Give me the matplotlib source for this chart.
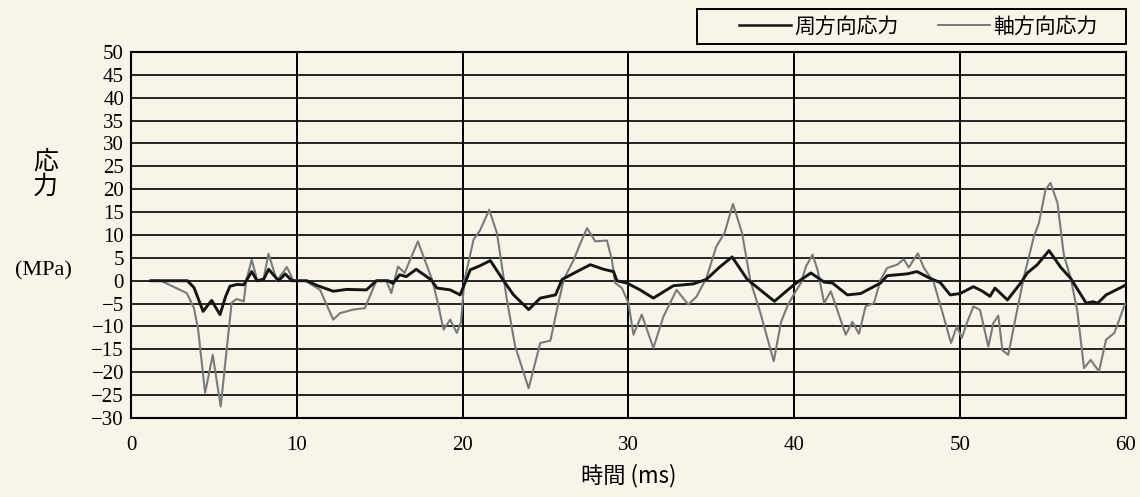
import matplotlib.pyplot as plt
from matplotlib.lines import Line2D
from matplotlib.patches import Rectangle

# 周方向応力 (circumferential stress) samples: time [ms], stress [MPa]
hoop_t = [1.2, 3.4, 3.8, 4.35, 4.6, 4.87, 5.1, 5.37, 5.7, 5.97, 6.4, 6.8, 6.95,
          7.28, 7.6, 8.0, 8.3, 8.9, 9.3, 9.7, 10.6, 11.2, 12.2, 13.0, 14.2, 14.8,
          15.5, 15.8, 16.2, 16.6, 17.2, 18.1, 18.45, 19.25, 19.85, 20.46, 21.0,
          21.67, 22.47, 23.07, 23.98, 24.68, 25.6, 26.0, 27.1, 27.7, 28.5, 29.1,
          29.3, 29.9, 30.7, 31.5, 32.7, 33.9, 34.7, 35.5, 36.25, 37.16, 38.8,
          40.0, 41.0, 41.8, 42.3, 43.2, 44.0, 45.2, 45.6, 46.8, 47.4, 48.2, 48.8,
          49.4, 50.0, 50.8, 51.3, 51.8, 52.1, 52.85, 53.65, 54.05, 54.65, 55.36,
          56.07, 56.67, 57.6, 58.0, 58.3, 58.8, 59.9, 60.0]
hoop_v = [0, 0, -1.5, -6.7, -5.5, -4.3, -5.8, -7.4, -3.5, -1.2, -0.8, -0.9, 0,
          2.0, 0, 0.3, 2.5, 0, 1.5, 0, 0, -1.0, -2.3, -1.9, -2.0, 0,
          0, -0.6, 1.3, 0.9, 2.5, 0.2, -1.6, -2.0, -3.1, 2.4, 3.2,
          4.4, 0, -3.1, -6.3, -3.8, -3.1, 0.3, 2.4, 3.5, 2.5, 2.0,
          0, -0.5, -2.0, -3.8, -1.1, -0.7, 0.3, 3.0, 5.2, 0.3, -4.5,
          -0.8, 1.7, -0.3, -0.5, -3.1, -2.8, -0.5, 1.1, 1.5, 2.0, 0.5, -0.4,
          -3.1, -2.8, -1.3, -2.2, -3.4, -1.6, -4.2, -0.5, 1.7, 3.5, 6.6,
          2.9, 0.5, -4.9, -4.6, -4.9, -3.1, -1.1, -0.8]

# 軸方向応力 (axial stress) samples: time [ms], stress [MPa]
axial_t = [1.2, 1.8, 3.36, 3.8, 4.05, 4.47, 4.93, 5.41, 5.8, 6.07, 6.37, 6.8, 6.95,
           7.28, 7.62, 8.0, 8.29, 8.8, 9.4, 9.8, 10.5, 11.4, 12.2, 12.6, 13.4,
           14.1, 14.8, 15.4, 15.7, 16.1, 16.5, 17.3, 18.15, 18.45, 18.85, 19.25,
           19.65, 19.9, 20.1, 20.66, 21.06, 21.6, 22.07, 22.67, 23.17, 23.98,
           24.68, 25.29, 25.8, 26.1, 26.7, 27.1, 27.5, 28.0, 28.7, 29.0, 29.2,
           29.6, 30.0, 30.3, 30.8, 31.5, 32.1, 32.9, 33.6, 34.1, 34.7, 35.3, 35.8,
           36.3, 36.85, 37.35, 37.96, 38.76, 39.2, 39.6, 40.0, 40.4, 40.7, 41.1,
           41.4, 41.8, 42.2, 43.1, 43.5, 43.9, 44.3, 44.8, 45.2, 45.6, 46.2, 46.6,
           46.9, 47.45, 47.8, 48.4, 49.0, 49.45, 49.8, 50.1, 50.4, 50.8, 51.2,
           51.7, 52.0, 52.3, 52.55, 52.9, 53.35, 53.85, 54.45, 54.75, 55.15,
           55.45, 55.87, 56.25, 56.67, 57.07, 57.47, 57.87, 58.37, 58.8, 59.3,
           59.9, 60.0]
axial_v = [0, 0, -2.7, -6.0, -10.7, -24.5, -16.2, -27.5, -14.0, -4.8, -4.0, -4.5, 0,
           4.6, 0, 0.5, 5.9, 0, 3.0, 0, 0, -2.0, -8.5, -7.1, -6.3,
           -6.0, 0, 0, -2.7, 3.1, 1.7, 8.6, 0.3, -4.0, -10.7, -8.5,
           -11.4, -9.0, 0, 9.0, 11.1, 15.5, 10.4, -4.2, -14.4, -23.5,
           -13.6, -13.1, -4.4, 0.3, 4.6, 8.2, 11.5, 8.6, 8.8, 4.6, -0.5,
           -1.6, -4.9, -11.8, -7.4, -14.7, -7.9, -2.0, -5.2, -3.5, 0.6, 7.5, 10.5,
           16.8, 10.4, 0, -7.1, -17.6, -9.0, -5.4, -2.8, -0.5, 3.1, 5.7,
           2.4, -4.9, -2.3, -11.8, -9.0, -11.6, -5.6, -4.9, 0.2, 2.8, 3.5, 4.7,
           2.9, 6.0, 2.9, -0.3, -7.8, -13.6, -10.0, -12.5, -9.3, -5.6, -6.4,
           -14.4, -9.3, -7.6, -15.2, -16.2, -8.0, 0.9, 9.7, 12.6, 19.9,
           21.4, 17.0, 5.7, 0.5, -6.7, -19.1, -17.3, -19.8, -12.9, -11.4,
           -5.5, -5.0]

x_ticks = [0, 10, 20, 30, 40, 50, 60]
y_ticks = list(range(-30, 55, 5))
series_names = ['周方向応力', '軸方向応力']

BG = '#f7f5e9'
JP = ['Noto Sans CJK JP', 'DejaVu Sans']
NUM = 'Liberation Serif'
plt.rcParams['font.family'] = [NUM, 'Noto Sans CJK JP']

fig = plt.figure(figsize=(11.4, 4.97), dpi=100, facecolor=BG)
ax = fig.add_axes([0.1149, 0.159, 0.8728, 0.7364], facecolor=BG)

# grid: horizontal every 5 MPa, vertical every 10 ms
for y in y_ticks:
    ax.axhline(y, color='black', lw=1.2, zorder=1)
for x in x_ticks:
    ax.axvline(x, color='black', lw=1.4, zorder=1)

ax.plot(axial_t, axial_v, color='#7a7a7a', lw=1.5, zorder=3)
ax.plot(hoop_t, hoop_v, color='#151515', lw=2.1, zorder=4)

ax.set_xlim(0, 60)
ax.set_ylim(-30, 50)
ax.set_xticks(x_ticks)
ax.set_yticks(y_ticks)
ax.tick_params(length=0, labelsize=15, pad=5)
ax.tick_params(axis='x', pad=13)
for sp in ax.spines.values():
    sp.set_color('black')
    sp.set_linewidth(1.5)

ax.set_xlabel('時間 (ms)', family=JP, fontsize=16, labelpad=6)

fig.text(0.040, 0.650, '応\n力', family=JP, fontsize=18, ha='center', va='center',
         linespacing=0.95)
fig.text(0.038, 0.455, '(MPa)', fontsize=16, ha='center', va='center')

# legend box above the plot, right aligned with the axes
fig.patches.append(Rectangle((697 / 1140, 1 - 44 / 497), 429 / 1140, 35 / 497,
                             transform=fig.transFigure, facecolor=BG,
                             edgecolor='black', lw=1.4))
handles = [Line2D([], [], color='#151515', lw=1.8),
           Line2D([], [], color='#7a7a7a', lw=1.4)]
fig.legend(handles, series_names, loc='center',
           bbox_to_anchor=(918 / 1140, 1 - 26.5 / 497),
           ncol=2, frameon=False, prop={'family': JP, 'size': 15},
           handlelength=2.5, handletextpad=0.15, columnspacing=1.9)

fig.savefig('out.png', dpi=100, facecolor=BG)
